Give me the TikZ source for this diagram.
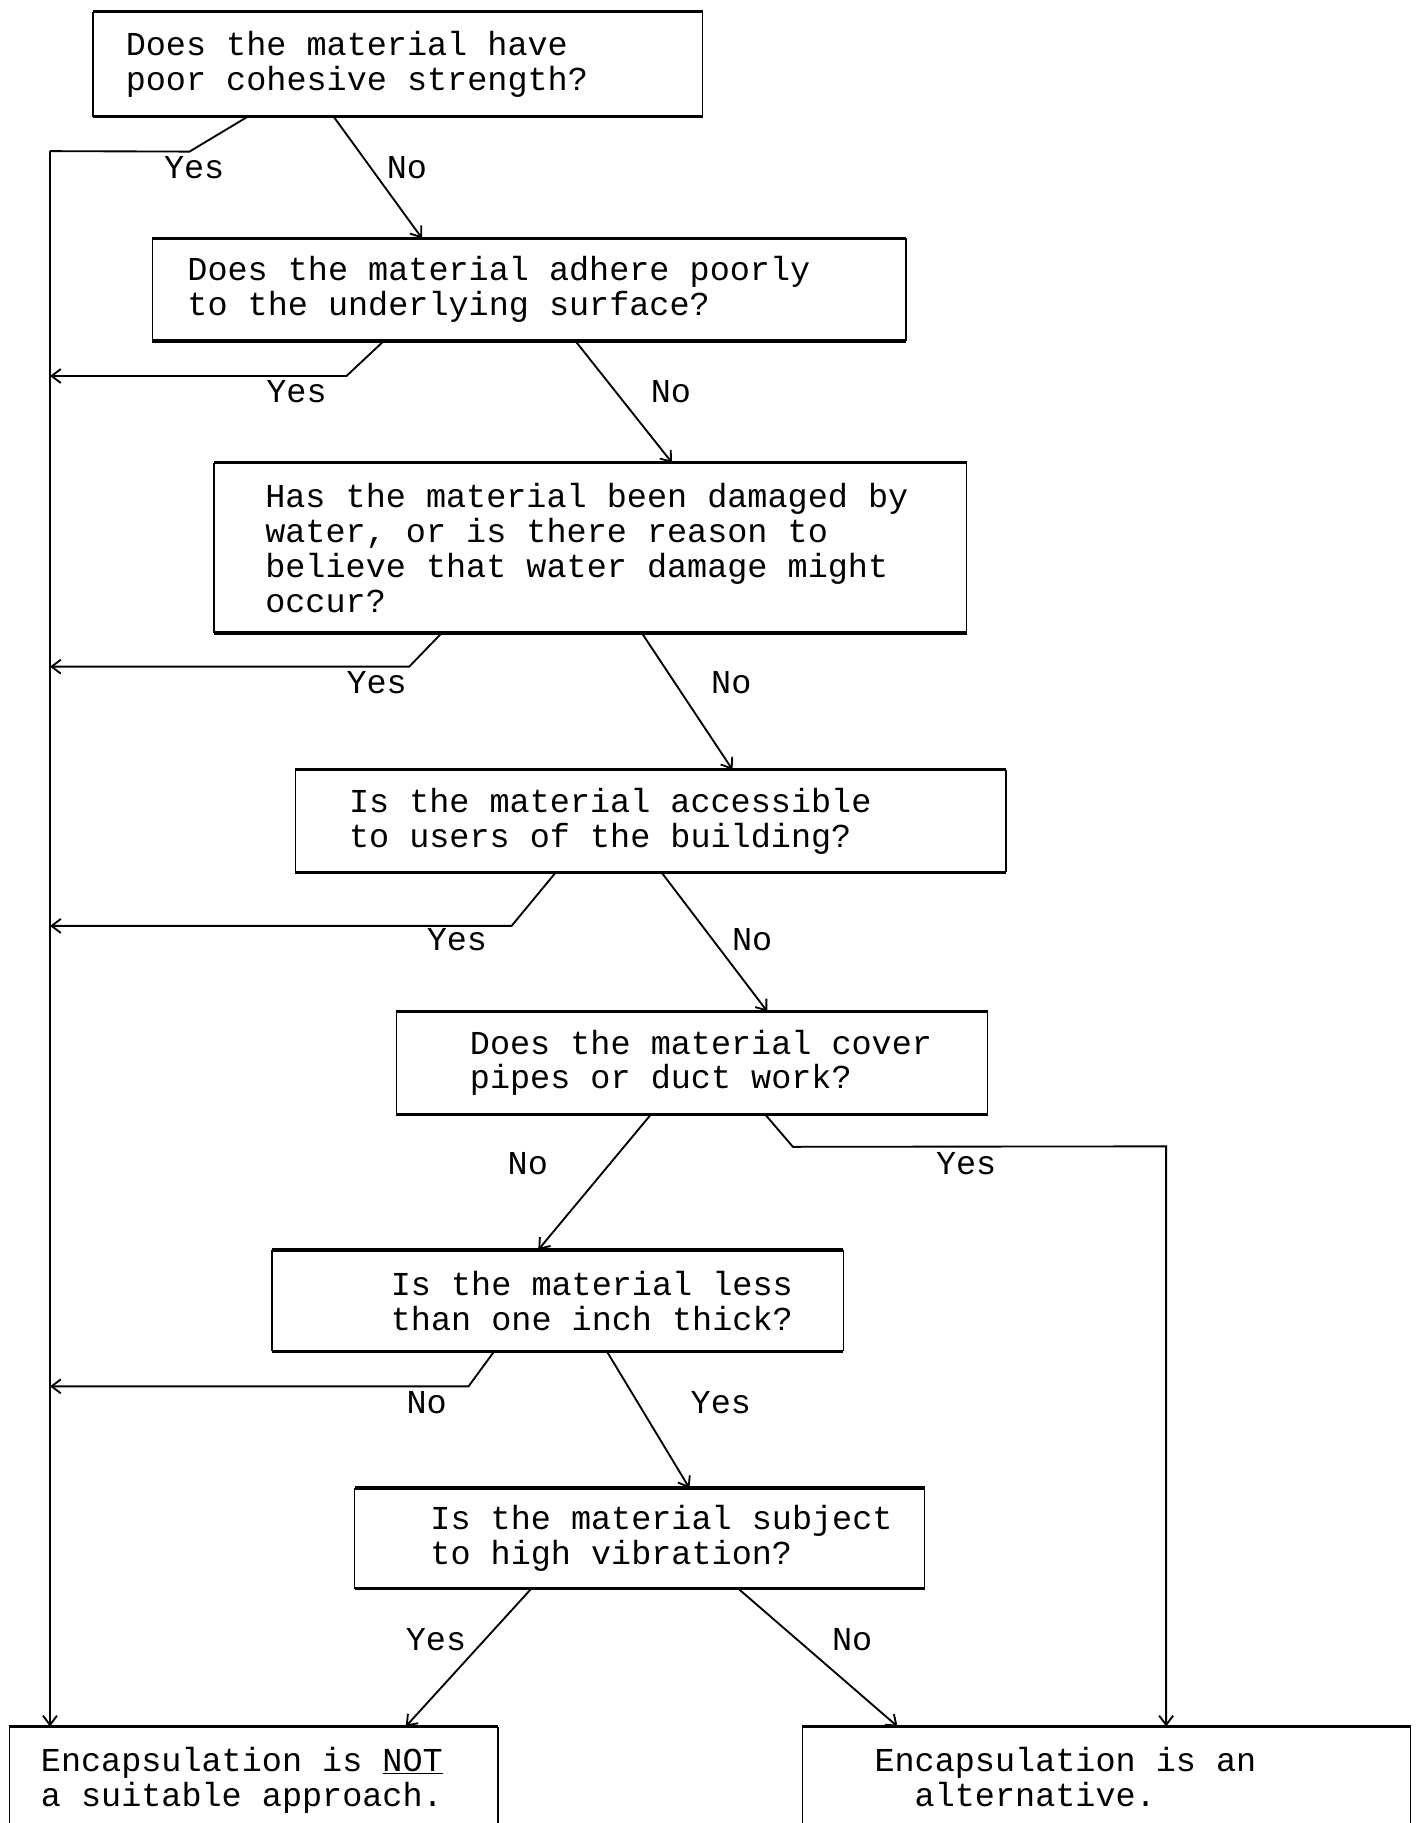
\documentclass[tikz,border=0pt]{standalone}
\usepackage{fontspec}
\setmonofont{Liberation Mono}
\usetikzlibrary{arrows.meta, calc, positioning}

\tikzset{
  every node/.style={font=\ttfamily\fontsize{28.8}{30}\selectfont},
  qbox/.style={inner sep=0pt, anchor=north west},
  qtext/.style={anchor=west, align=left, inner sep=0pt},
  answer/.style={inner sep=0pt},
  rule/.style={line width=3pt},
  side/.style={line width=1.2pt},
  line/.style={line width=1.6pt},
}
\tikzstyle{arrow} = [line width=1.6pt, -{Straight Barb[length=8pt,width=12pt]}]

\begin{document}
\begin{tikzpicture}[x=1pt, y=-1pt]
  \useasboundingbox (0,0) rectangle (1220,1568);

  % question boxes
  \node[qbox, minimum width=524pt, minimum height=90pt] (q1) at (80,10) {};
  \node[qbox, minimum width=648pt, minimum height=88pt] (q2) at (131,205) {};
  \node[qbox, minimum width=647pt, minimum height=146pt] (q3) at (184,398) {};
  \node[qbox, minimum width=611pt, minimum height=88pt] (q4) at (254,662) {};
  \node[qbox, minimum width=508pt, minimum height=88pt] (q5) at (341,870) {};
  \node[qbox, minimum width=491pt, minimum height=87pt] (q6) at (234,1075) {};
  \node[qbox, minimum width=490pt, minimum height=86pt] (q7) at (305,1280) {};
  % outcome boxes
  \node[qbox, minimum width=420pt, minimum height=86pt] (e1) at (8,1485) {};
  \node[qbox, minimum width=523pt, minimum height=86pt] (e2) at (690,1485) {};

  \node[qtext] (q1t) at ([xshift=28pt]q1.west) {Does the material have\\poor cohesive strength?};
  \node[qtext] (q2t) at ([xshift=30pt]q2.west) {Does the material adhere poorly\\to the underlying surface?};
  \node[qtext] (q3t) at ([xshift=44pt]q3.west) {Has the material been damaged by\\water, or is there reason to\\believe that water damage might\\occur?};
  \node[qtext] (q4t) at ([xshift=46pt]q4.west) {Is the material accessible\\to users of the building?};
  \node[qtext] (q5t) at ([xshift=63pt]q5.west) {Does the material cover\\pipes or duct work?};
  \node[qtext] (q6t) at ([xshift=102pt]q6.west) {Is the material less\\than one inch thick?};
  \node[qtext] (q7t) at ([xshift=65pt]q7.west) {Is the material subject\\to high vibration?};
  \node[qtext] (e1t) at ([xshift=27pt, yshift=-3pt]e1.west) {Encapsulation is \underline{NOT}\\a suitable approach.};
  \node[qtext] (e2t) at ([xshift=62pt]e2.west) {Encapsulation is an\\\hspace*{1.2em}alternative.};

  % box edges: heavy top and bottom, light sides
  \foreach \b in {q1,q2,q3,q4,q5,q6,q7} {
    \draw[rule] (\b.north west) -- (\b.north east);
    \draw[rule] (\b.south west) -- (\b.south east);
    \draw[side] (\b.north west) -- (\b.south west);
    \draw[side] (\b.north east) -- (\b.south east);
  }
  \foreach \b in {e1,e2} {
    \draw[rule] (\b.north west) -- (\b.north east);
    \draw[side] (\b.north west) -- (\b.south west);
    \draw[side] (\b.north east) -- (\b.south east);
  }

  % left trunk collecting the rejections
  \coordinate (trunk) at (43,130);
  \draw[line] ([xshift=133pt]q1.south west) -- ++(-50,30) -- (trunk);
  \draw[arrow] (trunk) -- ([xshift=35pt]e1.north west);
  \draw[arrow] ([xshift=199pt]q2.south west) -- ++(-32,30) coordinate (y2) -- (trunk |- y2);
  \draw[arrow] ([xshift=196pt]q3.south west) -- ++(-28,29) coordinate (y3) -- (trunk |- y3);
  \draw[arrow] ([xshift=224pt]q4.south west) -- ++(-38,46) coordinate (y4) -- (trunk |- y4);
  \draw[arrow] ([xshift=191pt]q6.south west) -- ++(-22,30) coordinate (n6) -- (trunk |- n6);

  % main line down
  \draw[arrow] ([xshift=207pt]q1.south west) -- ([xshift=232pt]q2.north west);
  \draw[arrow] ([xshift=364pt]q2.south west) -- ([xshift=394pt]q3.north west);
  \draw[arrow] ([xshift=368pt]q3.south west) -- ([xshift=376pt]q4.north west);
  \draw[arrow] ([xshift=315pt]q4.south west) -- ([xshift=319pt]q5.north west);
  \draw[arrow] ([xshift=219pt]q5.south west) -- ([xshift=229pt]q6.north west);
  \draw[arrow] ([xshift=288pt]q6.south west) -- ([xshift=288pt]q7.north west);
  \draw[arrow] ([xshift=152pt]q7.south west) -- ([xshift=341pt]e1.north west);
  \draw[arrow] ([xshift=330pt]q7.south west) -- ([xshift=82pt]e2.north west);

  % right branch for pipes
  \coordinate (pipes) at (1003,986);
  \draw[arrow] ([xshift=317pt]q5.south west) -- ++(24,28) -- (pipes) -- ([xshift=313pt]e2.north west);

  % answers
  \node[answer] (a1y) at (167,144) {Yes};
  \node[answer] (a1n) at (350,144) {No};
  \node[answer] (a2y) at (255,337) {Yes};
  \node[answer] (a2n) at (577,337) {No};
  \node[answer] (a3y) at (324,587) {Yes};
  \node[answer] (a3n) at (629,587) {No};
  \node[answer] (a4y) at (393,808) {Yes};
  \node[answer] (a4n) at (647,808) {No};
  \node[answer] (a5n) at (454,1001) {No};
  \node[answer] (a5y) at (831,1001) {Yes};
  \node[answer] (a6n) at (367,1206) {No};
  \node[answer] (a6y) at (620,1206) {Yes};
  \node[answer] (a7y) at (375,1410) {Yes};
  \node[answer] (a7n) at (733,1410) {No};
\end{tikzpicture}
\end{document}
